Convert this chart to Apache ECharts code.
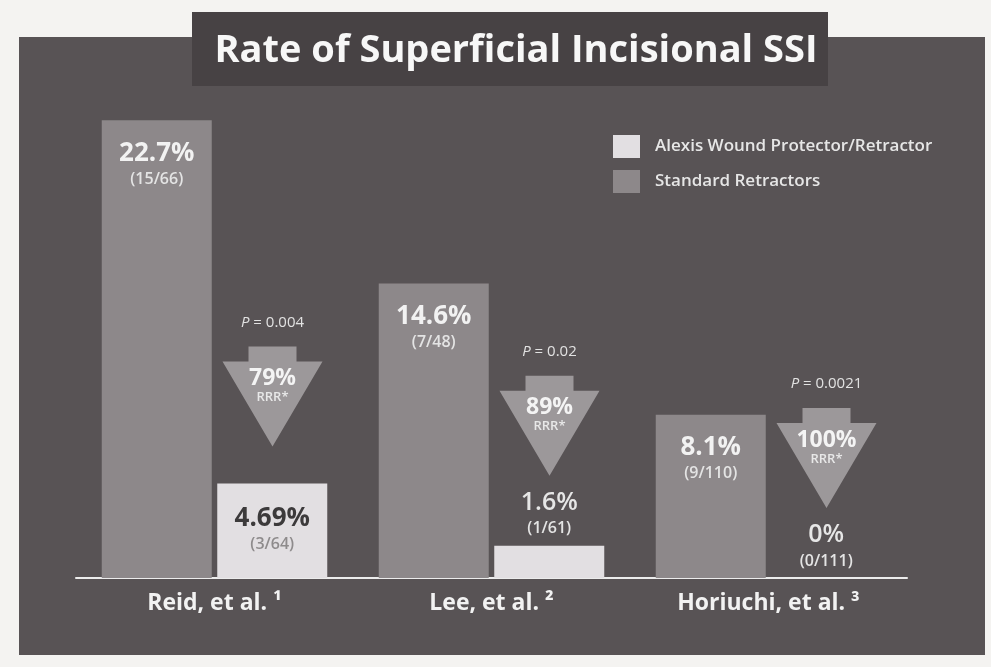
<!DOCTYPE html>
<html lang="en">
<head>
    <meta http-equiv="Content-Type" content="text/html; charset=UTF-8">
    <title>Rate of Superficial Incisional SSI</title>
    <script src="https://cdn.jsdelivr.net/npm/echarts@6/dist/echarts.min.js"></script>
    <style>
    html, body {
        margin: 0;
        padding: 0;
        background: #f4f3f1;
    }
    #chart {
        width: 991px;
        height: 667px;
    }
    </style>
</head>
<body>
    <div id="chart"></div>
    <script type="text/javascript">
    // data
    var studies = ['Reid, et al. \u00b9', 'Lee, et al. \u00b2', 'Horiuchi, et al. \u00b3'];
    var standardRate = [22.7, 14.6, 8.1];
    var standardEvents = [15, 7, 9];
    var standardTotal = [66, 48, 110];
    var alexisRate = [4.69, 1.6, 0];
    var alexisEvents = [3, 1, 0];
    var alexisTotal = [64, 61, 111];
    var rrr = [79, 89, 100];
    var pValues = ['0.004', '0.02', '0.0021'];

    var FONT = '"Open Sans", "DejaVu Sans", sans-serif';
    var chart = echarts.init(document.getElementById('chart'));

    var standardData = standardRate.map(function (v, i) {
        return {
            value: v,
            label: {
                formatter: '{v|' + v + '%}\n{n|(' + standardEvents[i] + '/' + standardTotal[i] + ')}'
            }
        };
    });

    // big enough bars carry their label inside, the small ones above
    var alexisData = alexisRate.map(function (v, i) {
        var inside = v > 3;
        return {
            value: v,
            label: {
                position: inside ? 'insideTop' : 'top',
                distance: inside ? 20 : 6,
                formatter: inside
                    ? '{vd|' + v + '%}\n{nd|(' + alexisEvents[i] + '/' + alexisTotal[i] + ')}'
                    : '{vw|' + v + '%}\n{n|(' + alexisEvents[i] + '/' + alexisTotal[i] + ')}'
            }
        };
    });

    var arrowData = alexisRate.map(function (v, i) {
        return [i, v];
    });

    var richText = {
        v: { fontFamily: FONT, fontSize: 26, fontWeight: 'bold', color: '#f2f2f2', lineHeight: 30 },
        vw: { fontFamily: FONT, fontSize: 25, fontWeight: 600, color: '#e6e6e6', lineHeight: 30 },
        vd: { fontFamily: FONT, fontSize: 26, fontWeight: 'bold', color: '#3c3a3b', lineHeight: 30 },
        n: { fontFamily: FONT, fontSize: 16, fontWeight: 600, color: '#e4e4e4', lineHeight: 22 },
        nd: { fontFamily: FONT, fontSize: 16, fontWeight: 600, color: '#8e8b8c', lineHeight: 22 }
    };

    var renderArrow = function (params, api) {
        var i = params.dataIndex;
        var v = api.value(1);
        var base = api.coord([api.value(0), v]);
        var cx = base[0] + 58;
        var apex = base[1] - (v > 3 ? 37 : 70);
        var top = apex - 85;
        var pts = [
            [cx - 24, top - 15], [cx + 24, top - 15], [cx + 24, top],
            [cx + 50, top], [cx, apex], [cx - 50, top], [cx - 24, top]
        ];
        return {
            type: 'group',
            children: [{
                type: 'polygon',
                shape: { points: pts },
                style: { fill: '#9c989a' }
            }, {
                type: 'text',
                x: cx,
                y: apex - 68,
                style: {
                    text: rrr[i] + '%',
                    fill: '#f4f4f4',
                    font: 'bold 23px ' + FONT,
                    align: 'center',
                    verticalAlign: 'middle'
                }
            }, {
                type: 'text',
                x: cx,
                y: apex - 49,
                style: {
                    text: 'RRR*',
                    fill: '#e8e8e8',
                    font: '600 13px ' + FONT,
                    align: 'center',
                    verticalAlign: 'middle'
                }
            }, {
                type: 'text',
                x: cx,
                y: apex - 124,
                style: {
                    text: '{i|P} = ' + pValues[i],
                    fill: '#e2e2e2',
                    font: '15px ' + FONT,
                    align: 'center',
                    verticalAlign: 'middle',
                    rich: {
                        i: { fontStyle: 'italic', fontFamily: FONT, fontSize: 15, fill: '#e2e2e2' }
                    }
                }
            }]
        };
    };

    var option = {
        animation: false,
        backgroundColor: '#f4f3f1',
        graphic: [{
            type: 'rect',
            z: -10,
            shape: { x: 19, y: 37, width: 966, height: 618 },
            style: { fill: '#585355' }
        }, {
            type: 'rect',
            z: -9,
            shape: { x: 192, y: 12, width: 636, height: 74 },
            style: { fill: '#474244' }
        }],
        title: {
            text: 'Rate of Superficial Incisional SSI',
            left: 511,
            top: 27,
            textAlign: 'center',
            textStyle: {
                fontFamily: FONT,
                fontSize: 38,
                fontWeight: 'bold',
                color: '#f7f7f7'
            }
        },
        legend: {
            orient: 'vertical',
            left: 608,
            top: 130,
            itemWidth: 27,
            itemHeight: 23,
            itemGap: 12,
            icon: 'rect',
            data: ['Alexis Wound Protector/Retractor', 'Standard Retractors'],
            textStyle: {
                fontFamily: FONT,
                fontSize: 17,
                fontWeight: 600,
                color: '#e6e6e6',
                padding: [0, 0, 0, 10]
            }
        },
        grid: {
            left: 76,
            width: 831,
            top: 94,
            bottom: 89
        },
        xAxis: {
            type: 'category',
            data: studies,
            axisLine: { lineStyle: { color: '#ececec', width: 2 } },
            axisTick: { show: false },
            axisLabel: {
                margin: 14,
                fontFamily: FONT,
                fontSize: 23,
                fontWeight: 'bold',
                color: '#f2f2f2'
            }
        },
        yAxis: {
            type: 'value',
            min: 0,
            max: 24,
            show: false,
            splitLine: { show: false }
        },
        series: [{
            name: 'Standard Retractors',
            type: 'bar',
            barWidth: 110,
            barGap: '5%',
            itemStyle: { color: '#8d888a' },
            label: {
                show: true,
                position: 'insideTop',
                distance: 18,
                align: 'center',
                rich: richText
            },
            data: standardData
        }, {
            name: 'Alexis Wound Protector/Retractor',
            type: 'bar',
            barWidth: 110,
            itemStyle: { color: '#e2dfe2' },
            label: {
                show: true,
                align: 'center',
                rich: richText
            },
            data: alexisData
        }, {
            name: 'arrows',
            type: 'custom',
            renderItem: renderArrow,
            data: arrowData,
            z: 5
        }]
    };
    chart.setOption(option);
    </script>
</body>
</html>
